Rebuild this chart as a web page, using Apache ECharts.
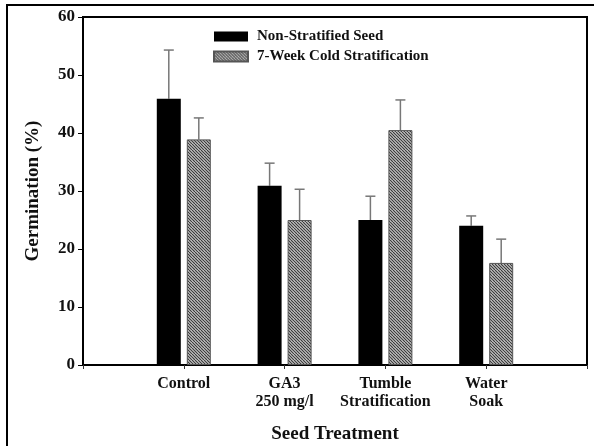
<!DOCTYPE html>
<html>
<head>
<meta charset="utf-8">
<script src="https://cdn.jsdelivr.net/npm/echarts@6/dist/echarts.min.js"></script>
<style>
  html, body { margin: 0; padding: 0; background: #fff; }
  #chart { width: 594px; height: 446px; }
</style>
</head>
<body>
<div id="chart"></div>
<script>
// values
const treatments = ['Control', 'GA3\n250 mg/l', 'Tumble\nStratification', 'Water\nSoak']
const nonStratified = [45.9, 30.9, 25.0, 24.0]
const nonStratifiedErr = [54.3, 34.8, 29.1, 25.7]
const coldStratified = [38.9, 25.0, 40.5, 17.6]
const coldStratifiedErr = [42.6, 30.3, 45.7, 21.7]
const yTicks = [0, 10, 20, 30, 40, 50, 60]

const font = '"Liberation Serif", "DejaVu Serif", serif'
const barWidth = 24
const barGap = 6

// hatch pattern for the stratified bars
function makeHatch() {
  let c = document.createElement('canvas')
  c.width = 6
  c.height = 6
  let ctx = c.getContext('2d')
  ctx.fillStyle = '#d4d4d4'
  ctx.fillRect(0, 0, 6, 6)
  ctx.strokeStyle = '#3a3a3a'
  ctx.lineWidth = 1.2
  ctx.beginPath()
  for (let k = -6; k <= 12; k += 3) {
    ctx.moveTo(k, 0)
    ctx.lineTo(k + 6, 6)
  }
  ctx.stroke()
  return c
}
const hatch = { image: makeHatch(), repeat: 'repeat' }

// pad with empty slots so the groups sit at 1..4 of a 0..5 axis
const axisCats = [''].concat(treatments, [''])
function pad(arr) { return ['-'].concat(arr, ['-']) }
function errData(vals, errs) {
  return vals.map((v, i) => [i + 1, v, errs[i]])
}

function errRender(offset) {
  return function (params, api) {
    let lo = api.coord([api.value(0), api.value(1)])
    let hi = api.coord([api.value(0), api.value(2)])
    let x = lo[0] + offset
    let style = { stroke: '#777', lineWidth: 1.5 }
    return {
      type: 'group',
      children: [
        { type: 'line', shape: { x1: x, y1: lo[1], x2: x, y2: hi[1] }, style: style },
        { type: 'line', shape: { x1: x - 5, y1: hi[1], x2: x + 5, y2: hi[1] }, style: style }
      ]
    }
  }
}

let myChart = echarts.init(document.getElementById('chart'))
let option = {
  animation: false,
  backgroundColor: '#fff',
  graphic: [{
    type: 'rect',
    shape: { x: 7, y: 5, width: 640, height: 500 },
    style: { fill: 'none', stroke: '#000', lineWidth: 2 },
    silent: true
  }],
  grid: {
    left: 83, right: 7, top: 17, bottom: 81,
    outerBoundsMode: 'none',
    show: true, borderColor: '#000', borderWidth: 2
  },
  legend: {
    orient: 'vertical',
    left: 208, top: 24,
    itemWidth: 34, itemHeight: 10, itemGap: 5,
    icon: 'rect',
    textStyle: {
      fontFamily: font, fontWeight: 'bold', fontSize: 15, lineHeight: 15,
      color: '#111', padding: [0, 0, 0, 4]
    },
    data: ['Non-Stratified Seed', '7-Week Cold Stratification']
  },
  xAxis: {
    type: 'category',
    data: axisCats,
    boundaryGap: false,
    axisLine: { lineStyle: { color: '#000', width: 2 } },
    axisTick: { show: true, length: 4, interval: 0, lineStyle: { color: '#333' } },
    axisLabel: {
      interval: 0,
      hideOverlap: false,
      fontFamily: font, fontWeight: 'bold', fontSize: 16, color: '#111',
      lineHeight: 18, margin: 10
    },
    splitLine: { show: false },
    name: 'Seed Treatment',
    nameLocation: 'middle',
    nameGap: 60,
    nameTextStyle: { fontFamily: font, fontWeight: 'bold', fontSize: 19, color: '#111' }
  },
  yAxis: {
    type: 'value',
    min: yTicks[0],
    max: yTicks[yTicks.length - 1],
    interval: 10,
    axisLine: { show: true, lineStyle: { color: '#000', width: 2 } },
    axisTick: { show: true, length: 5, lineStyle: { color: '#000' } },
    axisLabel: { fontFamily: font, fontWeight: 'bold', fontSize: 17, color: '#111', margin: 8 },
    splitLine: { show: false },
    name: 'Germination (%)',
    nameLocation: 'middle',
    nameGap: 40,
    nameTextStyle: { fontFamily: font, fontWeight: 'bold', fontSize: 19, color: '#111' }
  },
  series: [
    {
      name: 'Non-Stratified Seed',
      type: 'bar',
      barWidth: barWidth,
      barGap: (barGap / barWidth * 100) + '%',
      data: pad(nonStratified),
      itemStyle: { color: '#000' }
    },
    {
      name: '7-Week Cold Stratification',
      type: 'bar',
      barWidth: barWidth,
      data: pad(coldStratified),
      itemStyle: { color: hatch, borderColor: '#555', borderWidth: 1 }
    },
    {
      type: 'custom',
      renderItem: errRender(-(barWidth + barGap) / 2),
      data: errData(nonStratified, nonStratifiedErr),
      z: 1
    },
    {
      type: 'custom',
      renderItem: errRender((barWidth + barGap) / 2),
      data: errData(coldStratified, coldStratifiedErr),
      z: 1
    }
  ]
}
myChart.setOption(option)
window.addEventListener('resize', function () {
  myChart.resize()
})
</script>
</body>
</html>
